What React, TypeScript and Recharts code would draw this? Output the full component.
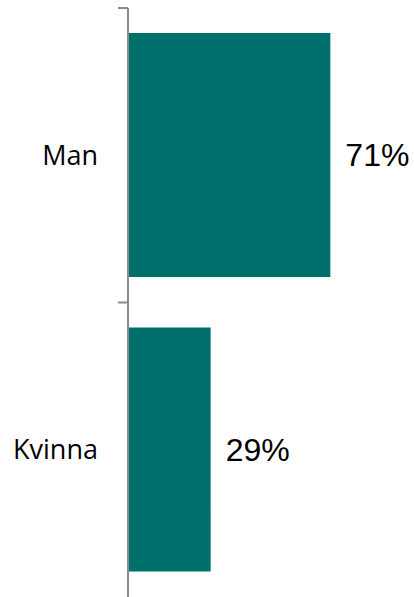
import { BarChart, Bar, XAxis, YAxis, LabelList } from 'recharts';

const categories = ['Man', 'Kvinna'];
const shares = [71, 29];

const chartData = categories.map((name, i) => ({ name, value: shares[i] }));

const BAR_COLOR = '#00706d';
const AXIS_COLOR = '#8a8a8a';

// draws the category label at the band centre and a short tick at the band's top edge
function GenderTick(props: any) {
  const { x, y, payload } = props;
  const half = payload?.offset ?? 0;
  return (
    <g>
      <line x1={x} x2={x + 10} y1={y - half} y2={y - half} stroke={AXIS_COLOR} strokeWidth={2} />
      <text
        x={x - 20}
        y={y}
        dy="0.35em"
        textAnchor="end"
        fontFamily="'Open Sans', sans-serif"
        fontSize={27}
        fill="#000"
      >
        {payload.value}
      </text>
    </g>
  );
}

export default function App() {
  return (
    <div style={{ position: 'absolute', left: 0, top: 0, width: 414, height: 597 }}>
      <BarChart
        width={414}
        height={597}
        data={chartData}
        layout="vertical"
        margin={{ top: 8, right: 1, left: 0, bottom: 0 }}
        barCategoryGap="8.5%"
      >
        <XAxis type="number" domain={[0, 100]} hide />
        <YAxis
          type="category"
          dataKey="name"
          width={128}
          tickLine={false}
          tickSize={10}
          tickMargin={0}
          axisLine={{ stroke: AXIS_COLOR, strokeWidth: 2 }}
          tick={<GenderTick />}
        />
        <Bar dataKey="value" fill={BAR_COLOR} isAnimationActive={false}>
          <LabelList
            dataKey="value"
            position="right"
            offset={15}
            formatter={(v: any) => `${v}%`}
            style={{ fontFamily: "'Liberation Sans', Arial, sans-serif", fontSize: 32, fill: '#000' }}
          />
        </Bar>
      </BarChart>
    </div>
  );
}
